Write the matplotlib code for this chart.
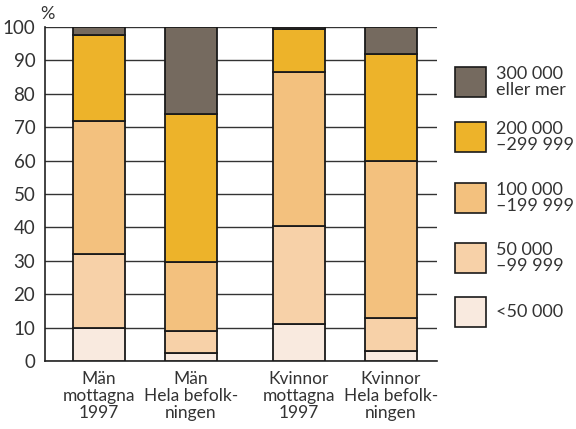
import matplotlib.pyplot as plt
from matplotlib.patches import Rectangle

plt.rcParams['font.family'] = ['Lato', 'DejaVu Sans']

groups = ['Män\nmottagna\n1997', 'Män\nHela befolk-\nningen',
          'Kvinnor\nmottagna\n1997', 'Kvinnor\nHela befolk-\nningen']

# andel (%) per inkomstklass, nerifrån och upp
under_50 = [10, 2.5, 11, 3]
k50_99 = [22, 6.5, 29.5, 10]
k100_199 = [40, 20.5, 46, 47]
k200_299 = [25.5, 44.5, 13, 32]
k300_plus = [2.5, 26, 0.5, 8]

series = [under_50, k50_99, k100_199, k200_299, k300_plus]
labels = ['<50 000', '50 000\n–99 999', '100 000\n–199 999',
          '200 000\n–299 999', '300 000\neller mer']
colors = ['#F9EADF', '#F7D1A8', '#F3C17E', '#EDB32A', '#756A5F']

x = [0, 1, 2.17, 3.17]
txt = '#333333'

fig = plt.figure(figsize=(5.76, 4.29), dpi=100)
ax = fig.add_axes([45 / 576, 68 / 429, 392 / 576, 334 / 429])

bottom = [0, 0, 0, 0]
for vals, c in zip(series, colors):
    ax.bar(x, vals, width=0.565, bottom=bottom, color=c,
           edgecolor='#1a1a1a', linewidth=1.3, zorder=3)
    bottom = [b + v for b, v in zip(bottom, vals)]

ax.set_xlim(-0.587, 3.674)
ax.set_ylim(0, 100)
ax.set_yticks(range(0, 101, 10))
ax.set_xticks(x)
ax.set_xticklabels(groups, fontsize=12.5, linespacing=1.08, color=txt)
ax.tick_params(axis='x', length=0, pad=7)
ax.tick_params(axis='y', length=0, pad=7, labelsize=13.5, labelcolor=txt)
ax.grid(axis='y', color='#333333', linewidth=1.0, zorder=0)
for s in ['top', 'right']:
    ax.spines[s].set_visible(False)
for s in ['left', 'bottom']:
    ax.spines[s].set_color('#222222')
    ax.spines[s].set_linewidth(1.2)

fig.text(40 / 576, 1 - 14 / 429, '%', fontsize=13, color=txt,
         va='center', ha='left')

# teckenförklaring
box_tops = [297, 243, 183, 122, 67]
for top, lab, c in zip(box_tops, labels, colors):
    fig.add_artist(Rectangle((455 / 576, 1 - (top + 30) / 429), 31 / 576, 30 / 429,
                             facecolor=c, edgecolor='#1a1a1a', linewidth=1.2,
                             transform=fig.transFigure))
    fig.text(496 / 576, 1 - (top + 15) / 429, lab, fontsize=13,
             va='center', ha='left', linespacing=0.95, color=txt)

fig.savefig('out.png', dpi=100)
